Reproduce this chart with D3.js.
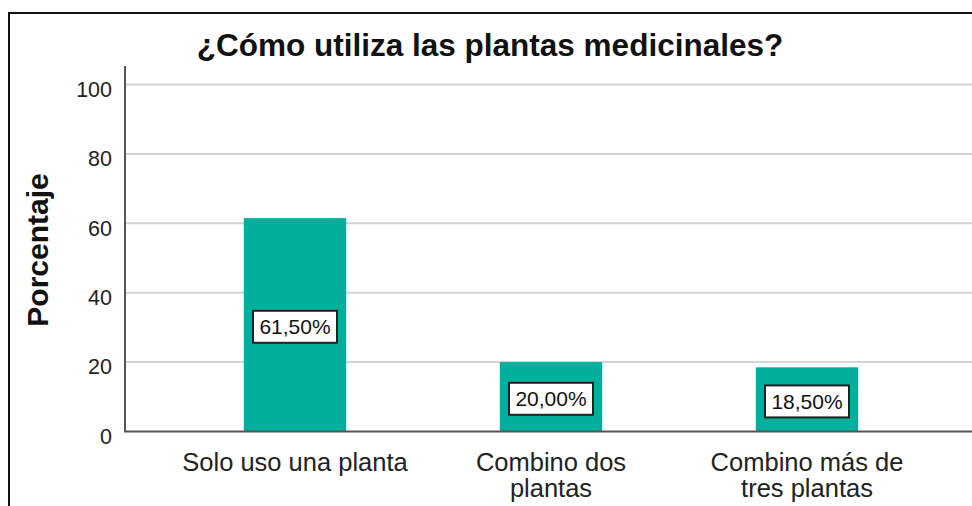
<!DOCTYPE html>
<html>
<head>
<meta charset="utf-8">
<script src="https://cdn.jsdelivr.net/npm/d3@7"></script>
<style>
  body { margin: 0; background: #fff; }
  text { font-family: "Liberation Sans", Arial, sans-serif; }
</style>
</head>
<body>
<svg id="chart" width="972" height="506"></svg>
<script>
// chart data
var categories = ["Solo uso una planta", "Combino dos|plantas", "Combino más de|tres plantas"];
var values = [61.5, 20.0, 18.5];
var valueLabels = ["61,50%", "20,00%", "18,50%"];
var yTicks = [0, 20, 40, 60, 80, 100];

var svg = d3.select("#chart");

// outer frame (runs off the right and bottom edge)
svg.append("rect")
   .attr("x", 9).attr("y", 13)
   .attr("width", 1000).attr("height", 600)
   .attr("fill", "none")
   .attr("stroke", "#111")
   .attr("stroke-width", 2);

var y = d3.scaleLinear().domain([0, 100]).range([431.5, 84.5]);
var x = d3.scaleBand().domain(categories).range([167, 935]).padding(0);
var barW = x.bandwidth() * 0.4;

// gridlines
svg.append("g").selectAll("line")
   .data(yTicks.filter(function(d){ return d > 0; }))
   .enter().append("line")
   .attr("x1", 126).attr("x2", 972)
   .attr("y1", function(d){ return y(d); })
   .attr("y2", function(d){ return y(d); })
   .attr("stroke", "#d4d4d4")
   .attr("stroke-width", 2);

// bars
svg.append("g").selectAll("rect")
   .data(values)
   .enter().append("rect")
   .attr("x", function(d, i){ return x(categories[i]) + (x.bandwidth() - barW) / 2; })
   .attr("y", function(d){ return y(d); })
   .attr("width", barW)
   .attr("height", function(d){ return y(0) - y(d); })
   .attr("fill", "#00b09c");

// y axis
var yAxis = d3.axisLeft(y).tickValues(yTicks).tickSize(0).tickPadding(13);
var gy = svg.append("g").attr("transform", "translate(125,0)").call(yAxis);
gy.select(".domain").remove();
gy.selectAll("text")
  .attr("font-size", 21.5)
  .attr("fill", "#222")
  .attr("dy", "0.55em")
  .style("font-family", "Liberation Sans, Arial, sans-serif");
svg.append("line")
   .attr("x1", 125).attr("x2", 125)
   .attr("y1", 66).attr("y2", y(0))
   .attr("stroke", "#555").attr("stroke-width", 2);
svg.append("line")
   .attr("x1", 124).attr("x2", 972)
   .attr("y1", y(0)).attr("y2", y(0))
   .attr("stroke", "#555").attr("stroke-width", 2);

// category labels
var xl = svg.append("g").selectAll("text")
   .data(categories)
   .enter().append("text")
   .attr("x", function(d){ return x(d) + x.bandwidth() / 2; })
   .attr("y", 471)
   .attr("text-anchor", "middle")
   .attr("font-size", 25.5)
   .attr("fill", "#222");
xl.each(function(d){
  var parts = d.split("|");
  var t = d3.select(this);
  parts.forEach(function(p, k){
    t.append("tspan")
     .attr("x", t.attr("x"))
     .attr("dy", k === 0 ? 0 : 26)
     .text(p);
  });
});

// value labels in boxes
var lab = svg.append("g").selectAll("g")
   .data(values)
   .enter().append("g")
   .attr("transform", function(d, i){
     var cx = x(categories[i]) + x.bandwidth() / 2;
     var cy = (y(d) + y(0)) / 2 + 2;
     return "translate(" + cx + "," + cy + ")";
   });
lab.append("rect")
   .attr("x", -42).attr("y", -16)
   .attr("width", 84).attr("height", 32)
   .attr("fill", "#fff")
   .attr("stroke", "#222")
   .attr("stroke-width", 2);
lab.append("text")
   .attr("text-anchor", "middle")
   .attr("dy", "0.36em")
   .attr("font-size", 21)
   .attr("fill", "#111")
   .text(function(d, i){ return valueLabels[i]; });

// y title
svg.append("text")
   .attr("transform", "translate(48,250) rotate(-90)")
   .attr("text-anchor", "middle")
   .attr("font-size", 30)
   .attr("font-weight", "bold")
   .attr("fill", "#111")
   .text("Porcentaje");

// title
svg.append("text")
   .attr("x", 490).attr("y", 56)
   .attr("text-anchor", "middle")
   .attr("font-size", 31.5)
   .attr("font-weight", "bold")
   .attr("fill", "#111")
   .text("¿Cómo utiliza las plantas medicinales?");
</script>
</body>
</html>
